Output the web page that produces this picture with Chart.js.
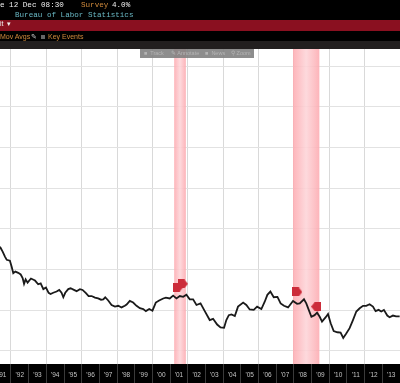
<!DOCTYPE html>
<html>
<head>
<meta charset="utf-8">
<script src="https://cdn.jsdelivr.net/npm/chart.js@4/dist/chart.umd.min.js"></script>
<style>
  html, body { margin: 0; padding: 0; background: #000; overflow: hidden; }
  #todo { position: relative; width: 400px; height: 383px; filter: blur(.35px); overflow: hidden; }
  canvas { position: absolute; left: 0; top: 0; }
  .txt { position: absolute; white-space: pre; line-height: 10px; }
  .mono { font: 7.6px "Liberation Mono", monospace; }
  .sans { font: 7px "Liberation Sans", sans-serif; }
  .banda { position: absolute; left: 0; width: 400px; }
  .tool { position: absolute; color: #b4b4b4; font: 5.5px "Liberation Sans", sans-serif; line-height: 9px; white-space: pre; }
</style>
</head>
<body>
<div id="todo">
  <canvas id="myChart" width="400" height="383"></canvas>

  <div class="banda" style="top:20px;height:11px;background:#8a1020"></div>
  <div class="banda" style="top:41px;height:8px;background:#221f1f"></div>

  <span class="txt mono" style="left:0;top:1px;color:#eee">e 12 Dec 08:30</span>
  <span class="txt mono" style="left:81px;top:1px;color:#d08a3c">Survey</span>
  <span class="txt mono" style="left:112px;top:1px;color:#eee">4.0%</span>
  <span class="txt mono" style="left:15px;top:11px;color:#69b8c4">Bureau of Labor Statistics</span>
  <span class="txt sans" style="left:0;top:20px;color:#eee">it  ▾</span>
  <span class="txt sans" style="left:0;top:33px;color:#d08a3c">Mov Avgs</span>
  <span class="txt sans" style="left:31px;top:33px;color:#ccc">✎</span>
  <span class="txt sans" style="left:41px;top:35px;width:4px;height:4px;background:#666"></span>
  <span class="txt sans" style="left:48px;top:33px;color:#d08a3c">Key Events</span>

  <div class="banda" style="left:140px;width:114px;top:49px;height:9px;background:rgba(125,125,125,.88)"></div>
  <span class="tool" style="left:144px;top:49px">■  Track</span>
  <span class="tool" style="left:171px;top:49px">✎ Annotate</span>
  <span class="tool" style="left:205px;top:49px">■  News</span>
  <span class="tool" style="left:231px;top:49px">⚲ Zoom</span>
</div>

<script>
const fechas = [
  1991.38, 1991.53, 1991.66, 1991.76, 1991.94, 1992.04, 1992.13, 1992.25, 1992.41, 1992.55,
  1992.66, 1992.74, 1992.83, 1992.94, 1993.13, 1993.36, 1993.54, 1993.68, 1993.83, 1993.98,
  1994.13, 1994.24, 1994.39, 1994.58, 1994.73, 1994.86, 1994.96, 1995.07, 1995.24, 1995.37,
  1995.56, 1995.71, 1995.90, 1996.05, 1996.24, 1996.39, 1996.56, 1996.75, 1996.93, 1997.09,
  1997.22, 1997.33, 1997.50, 1997.69, 1997.88, 1998.07, 1998.25, 1998.44, 1998.54, 1998.72,
  1998.91, 1999.10, 1999.29, 1999.48, 1999.63, 1999.82, 2000.00, 2000.19, 2000.38, 2000.61,
  2000.76, 2000.98, 2001.17, 2001.36, 2001.55, 2001.74, 2001.92, 2002.11, 2002.30, 2002.49,
  2002.72, 2002.96, 2003.24, 2003.43, 2003.66, 2003.85, 2004.05, 2004.18, 2004.32, 2004.47,
  2004.66, 2004.84, 2005.13, 2005.31, 2005.50, 2005.73, 2005.92, 2006.16, 2006.35, 2006.50,
  2006.67, 2006.86, 2007.07, 2007.25, 2007.44, 2007.67, 2007.95, 2008.18, 2008.33, 2008.57,
  2008.70, 2008.84, 2008.99, 2009.17, 2009.31, 2009.46, 2009.59, 2009.80, 2009.93, 2010.08,
  2010.25, 2010.46, 2010.64, 2010.79, 2010.96, 2011.15, 2011.34, 2011.53, 2011.72, 2011.91,
  2012.09, 2012.28, 2012.47, 2012.62, 2012.79, 2012.94, 2013.09, 2013.28, 2013.41, 2013.60,
  2013.78, 2013.98
];
const valores = [
  3.56, 3.44, 3.32, 3.24, 3.22, 3.07, 2.91, 2.95, 2.92, 2.88,
  2.79, 2.65, 2.76, 2.68, 2.78, 2.73, 2.64, 2.66, 2.52, 2.56,
  2.43, 2.40, 2.43, 2.46, 2.50, 2.43, 2.32, 2.43, 2.52, 2.54,
  2.50, 2.47, 2.52, 2.50, 2.42, 2.35, 2.35, 2.31, 2.29, 2.26,
  2.27, 2.32, 2.24, 2.13, 2.09, 2.11, 2.07, 2.11, 2.14, 2.23,
  2.19, 2.11, 2.05, 2.03, 1.98, 2.03, 1.99, 2.19, 2.24, 2.29,
  2.31, 2.29, 2.36, 2.29, 2.35, 2.33, 2.38, 2.27, 2.27, 2.13,
  2.17, 1.98, 1.76, 1.79, 1.65, 1.58, 1.57, 1.76, 1.88, 1.90,
  1.86, 2.09, 2.19, 2.13, 2.02, 2.01, 2.09, 2.03, 2.21, 2.38,
  2.46, 2.32, 2.33, 2.17, 2.11, 2.07, 2.23, 2.16, 2.17, 2.27,
  2.17, 2.01, 1.84, 1.88, 1.94, 1.84, 1.72, 1.83, 1.91, 1.68,
  1.49, 1.46, 1.45, 1.32, 1.43, 1.56, 1.76, 1.97, 2.05, 2.11,
  2.11, 2.15, 2.09, 1.98, 2.01, 1.97, 2.01, 1.87, 1.83, 1.87,
  1.85, 1.85
];

const anos = [1991, 1992, 1993, 1994, 1995, 1996, 1997, 1998, 1999, 2000, 2001, 2002,
  2003, 2004, 2005, 2006, 2007, 2008, 2009, 2010, 2011, 2012, 2013];
const etiquetas = ["'91", "'92", "'93", "'94", "'95", "'96", "'97", "'98", "'99", "'00", "'01", "'02",
  "'03", "'04", "'05", "'06", "'07", "'08", "'09", "'10", "'11", "'12", "'13"];

// recesiones y eventos
const recesionInicio = [2001.23, 2007.95];
const recesionFin    = [2001.89, 2009.44];
const eventosFechas  = [2001.46, 2001.72, 2008.19, 2009.26];
const eventosValores = [2.57, 2.65, 2.45, 2.09];
const eventosDerecha = [true, true, true, false];

// marcador pentagonal, apunta a un lado
function crearMarcador(derecha) {
  const c = document.createElement('canvas');
  c.width = 10;
  c.height = 9;
  const g = c.getContext('2d');
  g.fillStyle = '#cc2c3a';
  g.beginPath();
  if (derecha) {
    g.moveTo(0, 0); g.lineTo(6.5, 0); g.lineTo(10, 4.5); g.lineTo(6.5, 9); g.lineTo(0, 9);
  } else {
    g.moveTo(10, 0); g.lineTo(3.5, 0); g.lineTo(0, 4.5); g.lineTo(3.5, 9); g.lineTo(10, 9);
  }
  g.closePath();
  g.fill();
  return c;
}
const marcaDer = crearMarcador(true);
const marcaIzq = crearMarcador(false);

const fondoBlanco = {
  id: 'fondoBlanco',
  beforeDraw(chart) {
    const { ctx, chartArea: a } = chart;
    ctx.save();
    ctx.fillStyle = '#fff';
    ctx.fillRect(a.left, a.top, a.right - a.left, a.bottom - a.top);
    ctx.restore();
  }
};

/* BANDAS DE RECESION */
const bandas = {
  id: 'bandas',
  beforeDatasetsDraw(chart) {
    const { ctx, chartArea: a, scales } = chart;
    ctx.save();
    recesionInicio.forEach((ini, i) => {
      const x0 = scales.x.getPixelForValue(ini);
      const x1 = scales.x.getPixelForValue(recesionFin[i]);
      const grad = ctx.createLinearGradient(x0, 0, x1, 0);
      grad.addColorStop(0, 'rgba(253,170,176,.88)');
      grad.addColorStop(0.5, 'rgba(253,212,216,.88)');
      grad.addColorStop(1, 'rgba(253,170,176,.88)');
      ctx.fillStyle = grad;
      ctx.fillRect(x0, a.top, x1 - x0, a.bottom - a.top);
    });
    ctx.restore();
  }
};

const config = {
  type: 'line',
  data: {
    datasets: [{
      data: eventosFechas.map((f, i) => ({ x: f, y: eventosValores[i] })),
      showLine: false,
      pointStyle: c => eventosDerecha[c.dataIndex] ? marcaDer : marcaIzq,
      pointRadius: 5,
      order: 0
    },
    {
      data: fechas.map((f, i) => ({ x: f, y: valores[i] })),
      borderColor: '#1a1a1a',
      borderWidth: 1.8,
      pointRadius: 0,
      tension: 0,
      order: 1
    }]
  },
  plugins: [fondoBlanco, bandas],
  options: {
    responsive: false,
    animation: false,
    layout: { autoPadding: false, padding: { top: 49 } },
    plugins: { legend: { display: false }, tooltip: { enabled: false } },
    scales: {
      x: {
        type: 'linear',
        min: 1991.38,
        max: 2014,
        border: { display: false },
        afterBuildTicks(scale) {
          const t = [];
          anos.forEach(a => {
            if (a >= scale.min) t.push({ value: a });
            t.push({ value: a + 0.5 });
          });
          scale.ticks = t;
        },
        afterFit(scale) {
          scale.height = 19;
          scale.paddingLeft = 0;
          scale.paddingRight = 0;
        },
        grid: {
          tickLength: 19,
          lineWidth: 1,
          color: c => (c.tick && c.tick.value % 2 === 0) ? '#d9d9d9' : 'transparent',
          tickColor: c => (c.tick && Number.isInteger(c.tick.value)) ? '#3a3a3a' : 'transparent'
        },
        ticks: {
          autoSkip: false,
          maxRotation: 0,
          padding: -12,
          color: '#c4c4c4',
          font: { family: 'Liberation Sans', size: 6.5 },
          callback(v) {
            return Number.isInteger(v) ? '' : etiquetas[anos.indexOf(v - 0.5)];
          }
        }
      },
      y: {
        min: 0.68,
        max: 8.42,
        border: { display: false },
        afterFit(scale) { scale.width = 0; },
        grid: { color: '#e2e2e2', lineWidth: 1, drawTicks: false },
        ticks: { display: false, stepSize: 1, includeBounds: false }
      }
    }
  }
};

const myChart = new Chart(document.getElementById('myChart'), config);
</script>
</body>
</html>
